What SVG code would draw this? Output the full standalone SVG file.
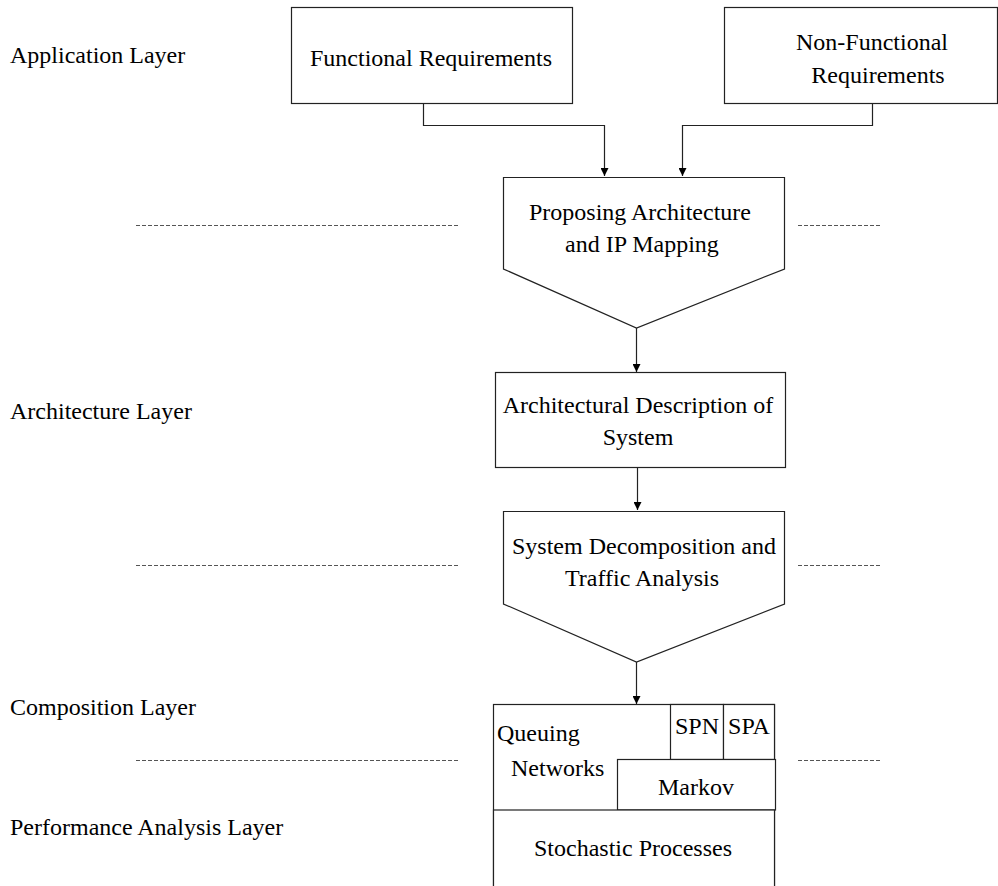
<svg xmlns="http://www.w3.org/2000/svg" width="998" height="886" viewBox="0 0 998 886">
<style>
text{font-family:"Liberation Serif","Times New Roman",serif;font-size:24px;fill:#000}
.c{text-anchor:middle}
.box{fill:#fff;stroke:#222;stroke-width:1.2}
.conn{fill:none;stroke:#222;stroke-width:1.2}
.dash{stroke:#555;stroke-width:1.2;stroke-dasharray:4 2}
</style>
<defs>
<marker id="ah" viewBox="0 0 10 10" refX="10" refY="5" markerWidth="8" markerHeight="8" markerUnits="userSpaceOnUse" orient="auto">
<path d="M0,0 L10,5 L0,10 z" fill="#000"/>
</marker>
</defs>
<rect width="998" height="886" fill="#fff"/>
<g id="layers">
<text x="10" y="63">Application Layer</text>
<text x="10" y="419">Architecture Layer</text>
<text x="10" y="715">Composition Layer</text>
<text x="10" y="835">Performance Analysis Layer</text>
<line class="dash" x1="136" y1="225.5" x2="460" y2="225.5"/>
<line class="dash" x1="798" y1="225.5" x2="882" y2="225.5"/>
<line class="dash" x1="136" y1="565.5" x2="460" y2="565.5"/>
<line class="dash" x1="798" y1="565.5" x2="882" y2="565.5"/>
<line class="dash" x1="136" y1="760.5" x2="460" y2="760.5"/>
<line class="dash" x1="798" y1="760.5" x2="882" y2="760.5"/>
</g>
<g id="connectors">
<path class="conn" d="M423.5,103 V125.5 H604.5 V176" marker-end="url(#ah)"/>
<path class="conn" d="M872.5,103 V125.5 H682.5 V176" marker-end="url(#ah)"/>
<path class="conn" d="M636.5,328 V372" marker-end="url(#ah)"/>
<path class="conn" d="M637.5,468 V510" marker-end="url(#ah)"/>
<path class="conn" d="M636.5,662 V704" marker-end="url(#ah)"/>
</g>
<g id="functional">
<rect class="box" x="291.5" y="7.5" width="281" height="96"/>
<text class="c" x="431" y="66">Functional Requirements</text>
</g>
<g id="nonfunctional">
<rect class="box" x="724.5" y="7.5" width="273" height="96"/>
<text class="c" x="872" y="50">Non-Functional</text>
<text class="c" x="878" y="83">Requirements</text>
</g>
<g id="proposing">
<polygon class="box" points="503.5,177.5 784.5,177.5 784.5,269 636.5,328 503.5,269"/>
<text class="c" x="640" y="220">Proposing Architecture</text>
<text class="c" x="642" y="252">and IP Mapping</text>
</g>
<g id="archdesc">
<rect class="box" x="495.5" y="372.5" width="290" height="95"/>
<text class="c" x="638" y="413">Architectural Description of</text>
<text class="c" x="638" y="445">System</text>
</g>
<g id="decomp">
<polygon class="box" points="503.5,511.5 784.5,511.5 784.5,604 636.5,662 503.5,604"/>
<text class="c" x="644" y="554">System Decomposition and</text>
<text class="c" x="642" y="586">Traffic Analysis</text>
</g>
<g id="analysis">
<rect class="box" x="493.5" y="704.5" width="281" height="200"/>
<text x="497" y="741">Queuing</text>
<text x="511" y="776">Networks</text>
</g>
<g id="spn">
<rect class="box" x="670.5" y="704.5" width="53" height="55"/>
<text class="c" x="697" y="734">SPN</text>
</g>
<g id="spa">
<rect class="box" x="723.5" y="704.5" width="51" height="55"/>
<text class="c" x="749" y="734">SPA</text>
</g>
<g id="markov">
<rect class="box" x="617.5" y="759.5" width="158" height="50.5"/>
<text class="c" x="696" y="795">Markov</text>
</g>
<g id="stochastic">
<rect class="box" x="493.5" y="810" width="281" height="100"/>
<text class="c" x="633" y="856">Stochastic Processes</text>
</g>
</svg>
